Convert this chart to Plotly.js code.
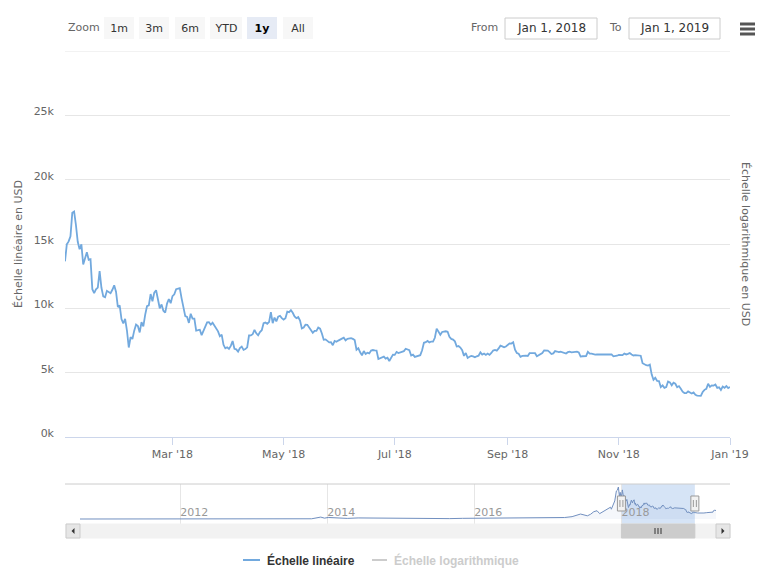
<!DOCTYPE html>
<html>
<head>
<meta charset="utf-8">
<script src="https://cdn.plot.ly/plotly-3.0.1.min.js"></script>
<style>html,body{margin:0;padding:0;background:#fff;}#chart{width:768px;height:576px;}</style>
</head>
<body>
<div id="chart"></div>
<script>
// ---------- DATA ----------
const startDate2018 = '2018-01-01';
const price2018 = [
 // Jan
 13657,14982,15201,15599,17429,17527,16477,15170,14595,14973,13405,13980,14360,13772,13819,11490,11188,11474,11607,12899,11600,10931,10868,11359,11259,11171,11441,11787,11296,10106,10221,
 // Feb
 9170,8830,9174,8277,6955,7754,7621,8265,8736,8621,8129,8926,8598,9494,10166,10233,11112,10551,11225,11403,10690,10005,10301,9813,9664,10366,10725,10397,
 // Mar
 10951,11086,11489,11512,11573,10779,9965,9395,9337,8866,9578,9205,9194,8269,8300,8338,7916,8223,8630,8913,8929,8728,8879,8668,8495,8209,7834,7954,7165,6891,6973,
 // Apr
 6845,7083,7457,6854,6812,6637,6911,7023,6771,6834,6969,7889,7895,7986,8329,8058,7902,8163,8294,8845,8895,8802,8930,9697,8845,9281,8988,9348,9419,9240,
 // May
 9119,9235,9743,9700,9858,9654,9373,9235,9325,9043,8441,8504,8723,8716,8510,8368,8094,8250,8247,8513,8419,8041,7557,7587,7481,7355,7368,7135,7473,7407,7494,
 // Jun
 7541,7643,7720,7514,7633,7653,7679,7624,7531,6786,6906,6582,6349,6676,6457,6551,6500,6719,6760,6733,6712,6065,6133,6154,6250,6093,6157,5903,6219,6404,
 // Jul
 6385,6614,6529,6598,6639,6674,6857,6773,6741,6329,6396,6228,6274,6350,6360,6739,7321,7370,7466,7354,7419,7418,7711,8424,8181,7951,8165,8192,8218,8180,7780,
 // Aug
 7624,7567,7434,7032,7068,6951,6753,6306,6527,6144,6232,6301,6263,6199,6274,6317,6580,6400,6488,6377,6487,6382,6534,6719,6764,6707,6884,7096,7047,6978,7037,
 // Sep
 7193,7273,7260,7362,6793,6529,6467,6225,6300,6329,6322,6297,6513,6517,6544,6516,6281,6371,6398,6519,6734,6721,6710,6596,6447,6495,6676,6644,6601,6626,
 // Oct
 6590,6530,6485,6593,6636,6585,6603,6653,6639,6579,6254,6276,6283,6283,6615,6480,6486,6413,6399,6412,6419,6408,6401,6421,6409,6412,6419,6418,6271,6273,6318,
 // Nov
 6377,6389,6363,6490,6419,6462,6530,6415,6339,6370,6370,6363,6319,5738,5648,5576,5554,5623,4871,4451,4602,4365,4347,3880,4010,3822,3877,4318,4245,4017,
 // Dec
 4215,4139,3865,3956,3753,3522,3419,3413,3546,3434,3380,3466,3276,3219,3195,3202,3495,3666,3745,4134,3897,4014,3998,4079,3816,3858,3655,3923,3821,3964,3800,
 // Jan 1 2019
 3880
];

const navHistDates = ['2010-08-21','2010-10-01','2010-12-01','2011-02-01','2011-04-01','2011-06-08','2011-08-01','2011-10-01','2011-12-01','2012-03-01','2012-06-01','2012-09-01','2012-12-01','2013-02-01','2013-04-09','2013-05-01','2013-07-01','2013-09-01','2013-10-15','2013-11-29','2013-12-18','2014-01-05','2014-02-25','2014-04-10','2014-06-03','2014-08-01','2014-10-01','2014-12-01','2015-01-14','2015-03-01','2015-06-01','2015-09-01','2015-11-04','2015-12-15','2016-02-01','2016-04-01','2016-06-16','2016-08-02','2016-10-01','2016-12-01','2017-01-04','2017-01-12','2017-02-01','2017-03-01','2017-03-25','2017-05-01','2017-05-25','2017-06-12','2017-07-16','2017-08-01','2017-08-17','2017-09-02','2017-09-15','2017-10-01','2017-10-20','2017-11-08','2017-11-12','2017-11-29','2017-12-07','2017-12-12','2017-12-17','2017-12-22','2017-12-26','2017-12-30'];
const navHistValues = [0.07,0.06,0.25,0.9,0.8,29,8,5,3,4.9,6.7,11,13.5,20,230,139,88,135,140,1150,520,950,555,360,660,590,385,370,170,255,225,230,400,455,370,417,760,545,615,750,1150,790,985,1190,900,1420,2540,2990,1930,2870,4430,4980,3230,4400,5950,7140,5900,10900,16900,17400,19300,13800,16100,12600];
const nav2019Dates = ['2019-01-15','2019-02-01','2019-02-15','2019-03-01','2019-03-15','2019-04-01','2019-04-03','2019-04-10','2019-04-16'];
const nav2019Values = [3620,3440,3620,3830,3930,4150,4960,5300,5100];

const xTickDates = ['2018-03-01','2018-05-01','2018-07-01','2018-09-01','2018-11-01','2019-01-01'];
const xTickLabels = ["Mar '18","May '18","Jul '18","Sep '18","Nov '18","Jan '19"];
const yTickVals = [0,5000,10000,15000,20000,25000,30000];
const yTickLabels = ['0k','5k','10k','15k','20k','25k',''];
const navYearDates = ['2012-01-01','2014-01-01','2016-01-01','2018-01-01'];
const navYearLabels = ['2012','2014','2016','2018'];
const zoomButtons = ['1m','3m','6m','YTD','1y','All'];
const seriesNames = ['Échelle linéaire','Échelle logarithmique'];
const axisTitles = ['Échelle linéaire en USD','Échelle logarithmique en USD'];
const fromToLabels = ['From','To'];
const fromToValues = ['Jan 1, 2018','Jan 1, 2019'];
const selStart = '2018-01-01', selEnd = '2019-01-01';

// ---------- BUILD ----------
function isoDay(base, i){
  const d = new Date(base + 'T00:00:00Z');
  d.setUTCDate(d.getUTCDate() + i);
  return d.toISOString().slice(0,10);
}
const dates2018 = price2018.map((_, i) => isoDay(startDate2018, i));
const navDates = navHistDates.concat(dates2018, nav2019Dates);
const navValues = navHistValues.concat(price2018, nav2019Values);

const L = 65, R = 730, T = 51, B = 538;
const px = x => (x - L) / (R - L);
const py = y => (B - y) / (B - T);

const FONT = 'DejaVu Sans, Verdana, sans-serif';
const lineColor = '#72a9de';

const traces = [
  {x: dates2018, y: price2018, type: 'scatter', mode: 'lines', xaxis: 'x', yaxis: 'y',
   line: {color: lineColor, width: 1.8}, hoverinfo: 'skip'},
  {x: navDates, y: navValues, type: 'scatter', mode: 'lines', xaxis: 'x2', yaxis: 'y2',
   line: {color: '#7290c0', width: 1}, fill: 'tozeroy', fillcolor: 'rgba(51,92,173,0.05)', hoverinfo: 'skip'}
];

const shapes = [];
const annotations = [];

// top gridline (30k)
shapes.push({type:'line', xref:'paper', yref:'y', x0: 0, x1: 1, y0: yTickVals[yTickVals.length-1], y1: yTickVals[yTickVals.length-1],
  line:{color:'#e6e6e6', width:1}, layer:'below'});
// navigator mask
shapes.push({type:'rect', xref:'x2', yref:'paper', x0: selStart, x1: selEnd, y0: py(525), y1: py(484),
  fillcolor:'rgba(120,165,225,0.3)', line:{width:0}, layer:'below'});
// navigator outline
shapes.push({type:'line', xref:'paper', yref:'paper', x0: px(65), x1: px(730), y0: py(484), y1: py(484), line:{color:'#cccccc', width:1}});
// handles
[selStart, selEnd].forEach(d => {
  shapes.push({type:'rect', xref:'x2', yref:'paper', xsizemode:'pixel', xanchor: d, x0:-4, x1:4,
    y0: py(511), y1: py(496), fillcolor:'#f2f2f2', line:{color:'#999999', width:1}});
  shapes.push({type:'line', xref:'x2', yref:'paper', xsizemode:'pixel', xanchor: d, x0:-1.5, x1:-1.5,
    y0: py(507), y1: py(500), line:{color:'#999999', width:1}});
  shapes.push({type:'line', xref:'x2', yref:'paper', xsizemode:'pixel', xanchor: d, x0:1.5, x1:1.5,
    y0: py(507), y1: py(500), line:{color:'#999999', width:1}});
});
// scrollbar track
shapes.push({type:'rect', xref:'paper', yref:'paper', x0: px(66), x1: px(730), y0: py(538), y1: py(524),
  fillcolor:'#f2f2f2', line:{color:'#f2f2f2', width:1}});
// thumb
shapes.push({type:'rect', xref:'x2', yref:'paper', x0: selStart, x1: selEnd, y0: py(538), y1: py(524),
  fillcolor:'#cccccc', line:{color:'#cccccc', width:1}});
// rifles
[-3,0,3].forEach(o => shapes.push({type:'line', xref:'paper', yref:'paper', x0: px(658+o), x1: px(658+o),
  y0: py(534), y1: py(528), line:{color:'#333333', width:1}}));
// buttons
[[66,80],[716,730]].forEach(([a,b]) => shapes.push({type:'rect', xref:'paper', yref:'paper', x0: px(a), x1: px(b),
  y0: py(538), y1: py(524), fillcolor:'#e6e6e6', line:{color:'#cccccc', width:1}}));
const tri = (pts) => 'M ' + pts.map(p => px(p[0]) + ',' + py(p[1])).join(' L ') + ' Z';
shapes.push({type:'path', xref:'paper', yref:'paper', path: tri([[74.5,528],[74.5,534],[71.5,531]]), fillcolor:'#333', line:{width:0}});
shapes.push({type:'path', xref:'paper', yref:'paper', path: tri([[721.5,528],[721.5,534],[724.5,531]]), fillcolor:'#333', line:{width:0}});

// range selector
annotations.push({xref:'paper', yref:'paper', x: px(66), y: py(28), xanchor:'left', yanchor:'middle',
  text:'Zoom', showarrow:false, font:{family:FONT, size:11, color:'#666666'}});
const btnCenters = [119, 153.5, 190, 226, 262, 297.5];
const btnWidths = [30, 30, 30, 32, 30, 30];
zoomButtons.forEach((b, i) => {
  const sel = b === '1y';
  annotations.push({xref:'paper', yref:'paper', x: px(btnCenters[i]), y: py(28), xanchor:'center', yanchor:'middle',
    text: sel ? '<b>'+b+'</b>' : b, showarrow:false, width: btnWidths[i], height: 22, borderpad: 0, borderwidth: 0,
    bgcolor: sel ? '#e6ebf5' : '#f7f7f7', font:{family:FONT, size:11, color: sel ? '#000000' : '#333333'}});
});
// From / To
annotations.push({xref:'paper', yref:'paper', x: px(484), y: py(28), xanchor:'center', yanchor:'middle',
  text: fromToLabels[0], showarrow:false, font:{family:FONT, size:11, color:'#666666'}});
annotations.push({xref:'paper', yref:'paper', x: px(615), y: py(28), xanchor:'center', yanchor:'middle',
  text: fromToLabels[1], showarrow:false, font:{family:FONT, size:11, color:'#666666'}});
[[505,597],[629,720]].forEach(([a,b], i) => {
  shapes.push({type:'rect', xref:'paper', yref:'paper', x0: px(a), x1: px(b), y0: py(39), y1: py(18),
    fillcolor:'#ffffff', line:{color:'#cccccc', width:1}});
  annotations.push({xref:'paper', yref:'paper', x: px((a+b)/2), y: py(28), xanchor:'center', yanchor:'middle',
    text: fromToValues[i], showarrow:false, font:{family:FONT, size:12, color:'#333333'}});
});
// hamburger
[24, 29, 34].forEach(y => shapes.push({type:'line', xref:'paper', yref:'paper', x0: px(740), x1: px(755),
  y0: py(y), y1: py(y), line:{color:'#555555', width:3}}));

// axis titles
annotations.push({xref:'paper', yref:'paper', x: px(18), y: py(244), xanchor:'center', yanchor:'middle',
  text: axisTitles[0], textangle: -90, showarrow:false, font:{family:FONT, size:11, color:'#666666'}});
annotations.push({xref:'paper', yref:'paper', x: px(746), y: py(244), xanchor:'center', yanchor:'middle',
  text: axisTitles[1], textangle: 90, showarrow:false, font:{family:FONT, size:11, color:'#666666'}});

// legend
shapes.push({type:'line', xref:'paper', yref:'paper', x0: px(243), x1: px(260), y0: py(560), y1: py(560), line:{color: lineColor, width:2}});
annotations.push({xref:'paper', yref:'paper', x: px(265), y: py(560), xanchor:'left', yanchor:'middle',
  text:'<b>'+seriesNames[0]+'</b>', showarrow:false, font:{family:'Liberation Sans, Arial, sans-serif', size:12, color:'#333333'}});
shapes.push({type:'line', xref:'paper', yref:'paper', x0: px(372), x1: px(387), y0: py(560), y1: py(560), line:{color:'#cccccc', width:2}});
annotations.push({xref:'paper', yref:'paper', x: px(392), y: py(560), xanchor:'left', yanchor:'middle',
  text:'<b>'+seriesNames[1]+'</b>', showarrow:false, font:{family:'Liberation Sans, Arial, sans-serif', size:12, color:'#cccccc'}});

const layout = {
  width: 768, height: 576,
  margin: {l: L, r: 768 - R, t: T, b: 576 - B, pad: 0},
  paper_bgcolor: '#ffffff', plot_bgcolor: 'rgba(0,0,0,0)',
  showlegend: false,
  font: {family: FONT, size: 11, color: '#666666'},
  xaxis: {type:'date', range:[selStart, selEnd], domain:[0,1], anchor:'y',
    tickmode:'array', tickvals: xTickDates, ticktext: xTickLabels,
    ticks:'outside', ticklen: 7, tickcolor:'#ccd6eb', tickwidth: 1,
    showgrid:false, showline:true, linecolor:'#ccd6eb', linewidth:1, zeroline:false,
    tickfont:{family:FONT, size:11, color:'#666666'}, fixedrange:true},
  yaxis: {range:[0,30000], domain:[py(437), 1], anchor:'x',
    tickmode:'array', tickvals: yTickVals, ticktext: yTickLabels,
    gridcolor:'#e6e6e6', gridwidth:1, zeroline:false, showline:false, ticks:'',
    ticklabelstandoff: 10, ticklabelshift: -4,
    tickfont:{family:FONT, size:11, color:'#666666'}, fixedrange:true},
  xaxis2: {type:'date', range:['2010-08-21','2019-04-16'], domain:[px(80), px(716)], anchor:'y2',
    tickmode:'array', tickvals: navYearDates, ticktext: navYearLabels,
    ticklabelposition:'inside right', ticks:'', showgrid:true, gridcolor:'#e6e6e6', gridwidth:1,
    showline:false, zeroline:false, tickfont:{family:FONT, size:11, color:'#999999'}, fixedrange:true},
  yaxis2: {range:[-3015, 21110], domain:[py(524), py(484)], anchor:'x2',
    showticklabels:false, showgrid:false, zeroline:false, ticks:'', showline:false, fixedrange:true},
  shapes: shapes,
  annotations: annotations
};

Plotly.newPlot('chart', traces, layout, {displayModeBar:false, staticPlot:true});
</script>
</body>
</html>
